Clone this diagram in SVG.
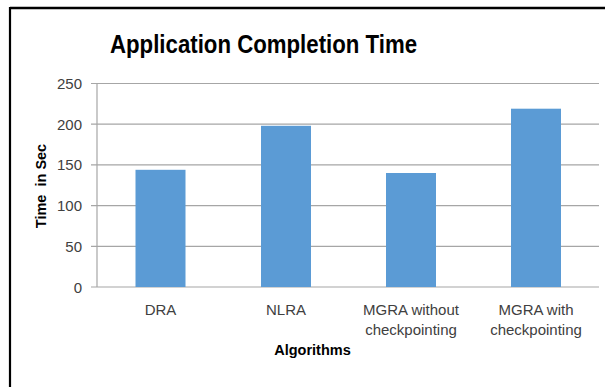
<svg xmlns="http://www.w3.org/2000/svg" width="605" height="387" viewBox="0 0 605 387">
<style>
.grid{stroke:#A6A6A6;stroke-width:1.2}
.bar{fill:#5B9BD5}
.tick{font-family:"Liberation Sans",Arial,sans-serif;font-size:15px;fill:#404040;text-anchor:end}
.cat{font-family:"Liberation Sans",Arial,sans-serif;font-size:15px;fill:#404040;text-anchor:middle}
.bold{font-family:"Liberation Sans",Arial,sans-serif;font-weight:bold;fill:#000;text-anchor:middle}
</style>
<rect x="0" y="0" width="605" height="387" fill="#fff"/>
<g id="frame">
<line x1="10" y1="8" x2="605" y2="8" stroke="#000" stroke-width="2.3"/>
<line x1="10" y1="7" x2="10" y2="387" stroke="#000" stroke-width="2.2"/>
</g>
<text id="title" class="bold" x="263.5" y="53" font-size="26" textLength="307" lengthAdjust="spacingAndGlyphs">Application Completion Time</text>
<g id="gridlines">
<line class="grid" x1="91" y1="83.5" x2="599" y2="83.5"/>
<line class="grid" x1="91" y1="124.2" x2="599" y2="124.2"/>
<line class="grid" x1="91" y1="164.9" x2="599" y2="164.9"/>
<line class="grid" x1="91" y1="205.6" x2="599" y2="205.6"/>
<line class="grid" x1="91" y1="246.3" x2="599" y2="246.3"/>
<line class="grid" x1="91" y1="287" x2="599" y2="287"/>
<line class="grid" x1="97" y1="83.5" x2="97" y2="287"/>
</g>
<g id="yticks">
<text class="tick" x="82" y="89">250</text>
<text class="tick" x="82" y="129.7">200</text>
<text class="tick" x="82" y="170.4">150</text>
<text class="tick" x="82" y="211.1">100</text>
<text class="tick" x="82" y="251.8">50</text>
<text class="tick" x="82" y="292.5">0</text>
</g>
<text id="ytitle" class="bold" font-size="14.5" style="white-space:pre" transform="translate(46,186) rotate(-90)">Time  in Sec</text>
<g id="bar-dra"><rect class="bar" x="135.5" y="169.8" width="50" height="117.2"/></g>
<g id="bar-nlra"><rect class="bar" x="261" y="125.8" width="50" height="161.2"/></g>
<g id="bar-mgra-without"><rect class="bar" x="386" y="173" width="50" height="114"/></g>
<g id="bar-mgra-with"><rect class="bar" x="511" y="108.7" width="50" height="178.3"/></g>
<g id="xlabels">
<text class="cat" x="160.5" y="315">DRA</text>
<text class="cat" x="286" y="315">NLRA</text>
<text class="cat" x="411" y="315">MGRA without</text>
<text class="cat" x="411" y="335">checkpointing</text>
<text class="cat" x="536" y="315">MGRA with</text>
<text class="cat" x="536" y="335">checkpointing</text>
</g>
<text id="xtitle" class="bold" x="312.5" y="355" font-size="14.5">Algorithms</text>
</svg>
